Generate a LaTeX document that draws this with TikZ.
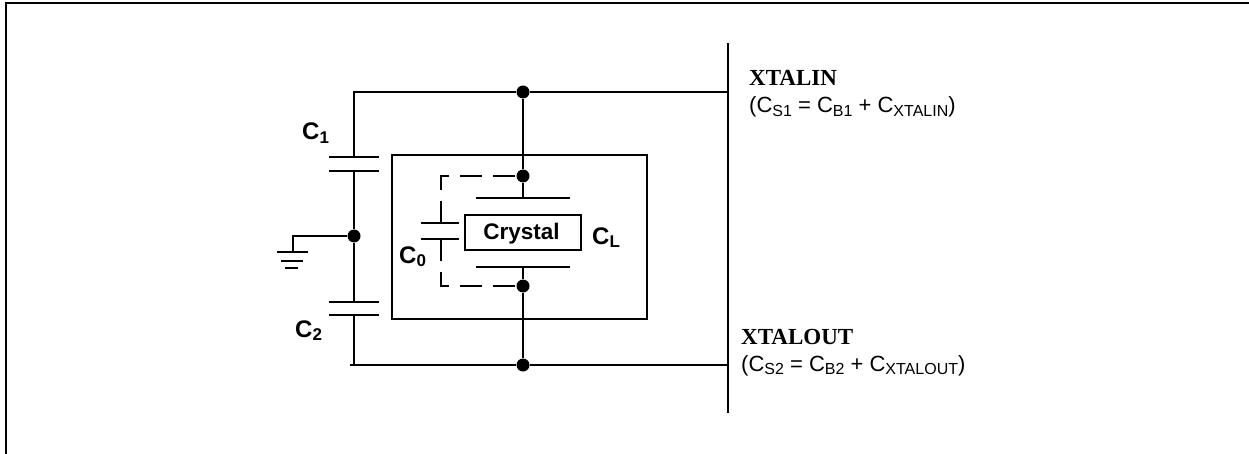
\documentclass[tikz,border=0pt]{standalone}
\usepackage{fontspec}
\setmainfont{Liberation Sans}
\newfontfamily\xtalfont{Liberation Serif}
\usepackage{tikz}

\newcommand{\capsub}[1]{\raisebox{-3.5pt}{\fontsize{17}{17}\selectfont #1}}
\newcommand{\pinsub}[1]{\raisebox{-3.5pt}{\fontsize{16}{16}\selectfont #1}}

\tikzset{
	wire/.style={line width=2.6pt},
	dashwire/.style={wire,dash pattern=on 22pt off 11pt,dash phase=25pt},
	dot/.style={shape=circle,fill=black,inner sep=0pt,minimum size=13pt},
	caplabel/.style={anchor=base west,inner sep=0pt,font=\fontsize{24}{24}\selectfont\bfseries},
	pinname/.style={anchor=base west,inner sep=0pt,font=\fontsize{23}{23}\selectfont\xtalfont\bfseries},
	pinnote/.style={anchor=base west,inner sep=0pt,font=\fontsize{22}{22}\selectfont}
}

\begin{document}
\begin{tikzpicture}[x=1pt,y=-1pt]
	
	\useasboundingbox (0, 0) rectangle (1249, 454);
	
	\coordinate (frametl) at (6, 3);
	\coordinate (framebl) at (6, 454);
	\coordinate (frametr) at (1249, 3);
	\coordinate (bustop) at (728, 43);
	\coordinate (busbot) at (728, 413);
	\coordinate (businA) at (728, 92);
	\coordinate (busoutA) at (728, 365);
	\coordinate (corner) at (354, 92);
	\coordinate (cornerb) at (350, 365);
	\coordinate (cbot) at (354, 365);
	\coordinate (ca1l) at (329, 157);
	\coordinate (ca1r) at (379, 157);
	\coordinate (ca2l) at (329, 171);
	\coordinate (ca2r) at (379, 171);
	\coordinate (ca1) at (354, 157);
	\coordinate (ca2) at (354, 171);
	\coordinate (cb1l) at (329, 302);
	\coordinate (cb1r) at (379, 302);
	\coordinate (cb2l) at (329, 315);
	\coordinate (cb2r) at (379, 315);
	\coordinate (cb1) at (354, 302);
	\coordinate (cb2) at (354, 315);
	\coordinate (gndk) at (293, 236);
	\coordinate (gnd) at (293, 252);
	\coordinate (gnd1l) at (277, 252);
	\coordinate (gnd1r) at (308, 252);
	\coordinate (gnd2l) at (281, 261);
	\coordinate (gnd2r) at (303, 261);
	\coordinate (gnd3l) at (285, 268);
	\coordinate (gnd3r) at (298, 268);
	\coordinate (xa) at (523, 198);
	\coordinate (xal) at (476, 198);
	\coordinate (xar) at (570, 198);
	\coordinate (xb) at (523, 267);
	\coordinate (xbl) at (476, 267);
	\coordinate (xbr) at (570, 267);
	\coordinate (dashtl) at (441, 176);
	\coordinate (dashbl) at (441, 286);
	\coordinate (co1) at (441, 223);
	\coordinate (co2) at (441, 239);
	\coordinate (co1l) at (421, 223);
	\coordinate (co1r) at (459, 223);
	\coordinate (co2l) at (421, 239);
	\coordinate (co2r) at (459, 239);
	
	\node[dot] (top) at (523, 92) {};
	\node[dot] (bot) at (523, 365) {};
	\node[dot] (mid) at (354, 236) {};
	\node[dot] (upper) at (523, 176) {};
	\node[dot] (lower) at (523, 286) {};
	\node[shape=rectangle,draw=black,line width=2.6pt,minimum width=255pt,minimum height=164pt,inner sep=0pt] (outer) at (519.5, 237) {};
	\node[shape=rectangle,draw=black,line width=2.6pt,minimum width=116pt,minimum height=35pt,inner sep=0pt,fill=white,text height=16pt,text depth=1.5pt,font=\fontsize{22.5}{22.5}\selectfont\bfseries] (crystal) at (523, 232.5) {\kern-3pt Crystal};
	
	\node[caplabel] (cone) at (302, 140) {C\capsub{1}};
	\node[caplabel] (ctwo) at (295, 337) {C\capsub{2}};
	\node[caplabel] (czero) at (399, 263) {C\capsub{0}};
	\node[caplabel] (cload) at (592, 244) {C\capsub{L}};
	
	\node[pinname] (xin) at (749, 86) {XTALIN};
	\node[pinnote] (xinnote) at (749, 113) {(C\pinsub{S1} = C\pinsub{B1} + C\pinsub{XTALIN})};
	\node[pinname] (xout) at (741, 344) {XTALOUT};
	\node[pinnote] (xoutnote) at (741, 371) {(C\pinsub{S2} = C\pinsub{B2} + C\pinsub{XTALOUT})};
	
	\draw[wire] (frametr) -- (frametl) -- (framebl);
	\draw[line width=2.8pt] (bustop) -- (busbot);
	\draw[wire] (businA) -- (top) -- (corner) -- (ca1);
	\draw[wire] (ca2) -- (mid) -- (cb1);
	\draw[wire] (cb2) -- (cbot);
	\draw[wire] (cornerb) -- (bot) -- (busoutA);
	\draw[wire] (ca1l) -- (ca1r);
	\draw[wire] (ca2l) -- (ca2r);
	\draw[wire] (cb1l) -- (cb1r);
	\draw[wire] (cb2l) -- (cb2r);
	\draw[wire] (mid) -- (gndk) -- (gnd);
	\draw[wire] (gnd1l) -- (gnd1r);
	\draw[wire] (gnd2l) -- (gnd2r);
	\draw[wire] (gnd3l) -- (gnd3r);
	\draw[wire] (top) -- (upper) -- (xa);
	\draw[wire] (xal) -- (xar);
	\draw[wire] (xb) -- (lower) -- (bot);
	\draw[wire] (xbl) -- (xbr);
	\draw[dashwire] (upper.center) -- (dashtl) -- (co1);
	\draw[dashwire] (lower.center) -- (dashbl) -- (co2);
	\draw[wire] (co1l) -- (co1r);
	\draw[wire] (co2l) -- (co2r);
	
\end{tikzpicture}
\end{document}
